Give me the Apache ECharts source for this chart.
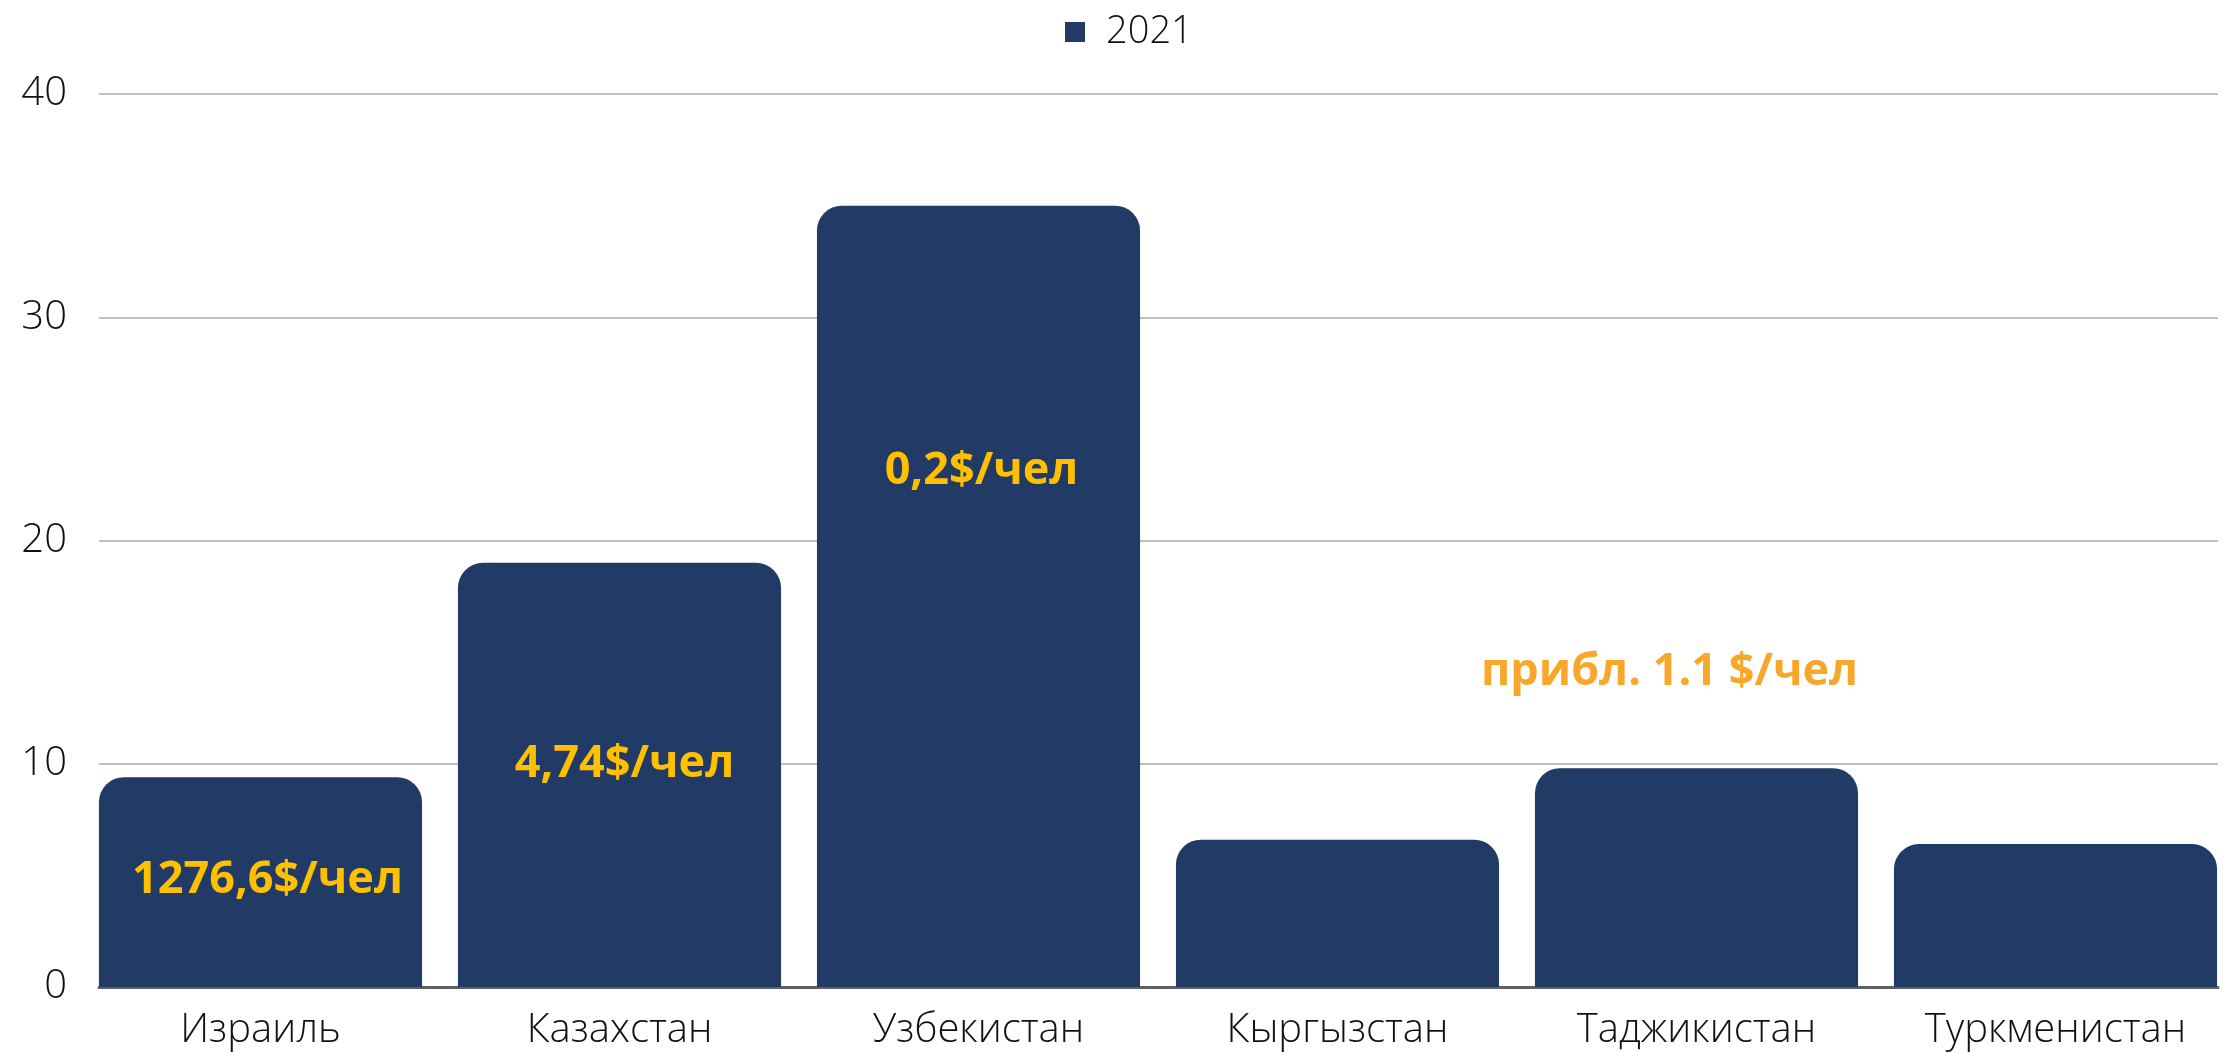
<!DOCTYPE html>
<html>
<head>
<meta charset="utf-8">
<script src="https://cdn.jsdelivr.net/npm/echarts@6.0.0/dist/echarts.min.js"></script>
<style>
  html, body { margin: 0; padding: 0; background: #fff; overflow: hidden; }
  #chart { width: 2240px; height: 1053px; }
</style>
</head>
<body>
<div id="chart"></div>
<script>
const categories = ['Израиль', 'Казахстан', 'Узбекистан', 'Кыргызстан', 'Таджикистан', 'Туркменистан']
const values2021 = [9.4, 19.0, 35.0, 6.6, 9.8, 6.4]
const yTicks = [0, 10, 20, 30, 40]

// text notes inside the chart: category, y value, text, colour
const noteCategories = ['Израиль', 'Казахстан', 'Узбекистан', 'Таджикистан']
const noteValues = [4.8, 10.0, 23.1, 14.1]
const noteTexts = ['1276,6$/чел', '4,74$/чел', '0,2$/чел', 'прибл. 1.1 $/чел']
const noteColors = ['#FFC000', '#FFC000', '#FFC000', '#F9A72B']
const noteOffsets = [[7, 0], [5, 0], [3, 0], [-27, 0]]

const chart = echarts.init(document.getElementById('chart'))

const font = '"Open Sans", sans-serif'

chart.setOption({
  animation: false,
  textStyle: { fontFamily: font },
  legend: {
    data: ['2021'],
    left: 1060,
    top: 8,
    icon: 'rect',
    itemWidth: 20,
    itemHeight: 20,
    textStyle: {
      fontSize: 38,
      fontWeight: 300,
      color: '#111',
      padding: [0, 0, 0, 16]
    }
  },
  grid: [
    // bars (a bit wider than the gridlines so the outer bars touch their ends)
    { left: 81, width: 2154, top: 94, bottom: 66 },
    // gridlines, y labels, baseline
    { left: 99, right: 22, top: 94, bottom: 66 }
  ],
  xAxis: [
    {
      type: 'category',
      gridIndex: 0,
      data: categories,
      axisLine: { show: false },
      axisTick: { show: false },
      axisLabel: {
        fontSize: 40,
        fontWeight: 300,
        color: '#111',
        margin: 24
      }
    },
    {
      type: 'category',
      gridIndex: 1,
      data: categories,
      axisLine: { show: true, lineStyle: { color: '#606060', width: 3 } },
      axisTick: { show: false },
      axisLabel: { show: false }
    }
  ],
  yAxis: [
    {
      type: 'value',
      gridIndex: 0,
      min: yTicks[0],
      max: yTicks[yTicks.length - 1],
      interval: 10,
      show: false,
      splitLine: { show: false }
    },
    {
      type: 'value',
      gridIndex: 1,
      min: yTicks[0],
      max: yTicks[yTicks.length - 1],
      interval: 10,
      axisLine: { show: false },
      axisTick: { show: false },
      axisLabel: {
        fontSize: 40,
        fontWeight: 300,
        color: '#111',
        margin: 32
      },
      splitLine: { show: true, lineStyle: { color: '#BFBFBF', width: 2 } }
    }
  ],
  series: [
    {
      name: '2021',
      type: 'bar',
      xAxisIndex: 0,
      yAxisIndex: 0,
      data: values2021,
      barCategoryGap: '10%',
      itemStyle: {
        color: '#223A66',
        borderRadius: [25, 25, 0, 0]
      },
      z: 3
    },
    {
      name: 'notes',
      type: 'scatter',
      xAxisIndex: 0,
      yAxisIndex: 0,
      symbolSize: 0,
      silent: true,
      z: 5,
      itemStyle: { opacity: 1 },
      data: noteCategories.map((c, i) => ({
        value: [c, noteValues[i]],
        label: {
          show: true,
          position: 'inside',
          formatter: noteTexts[i],
          color: noteColors[i],
          offset: noteOffsets[i],
          fontSize: 45,
          fontWeight: 'bold',
          fontFamily: font
        }
      }))
    }
  ]
})
</script>
</body>
</html>
